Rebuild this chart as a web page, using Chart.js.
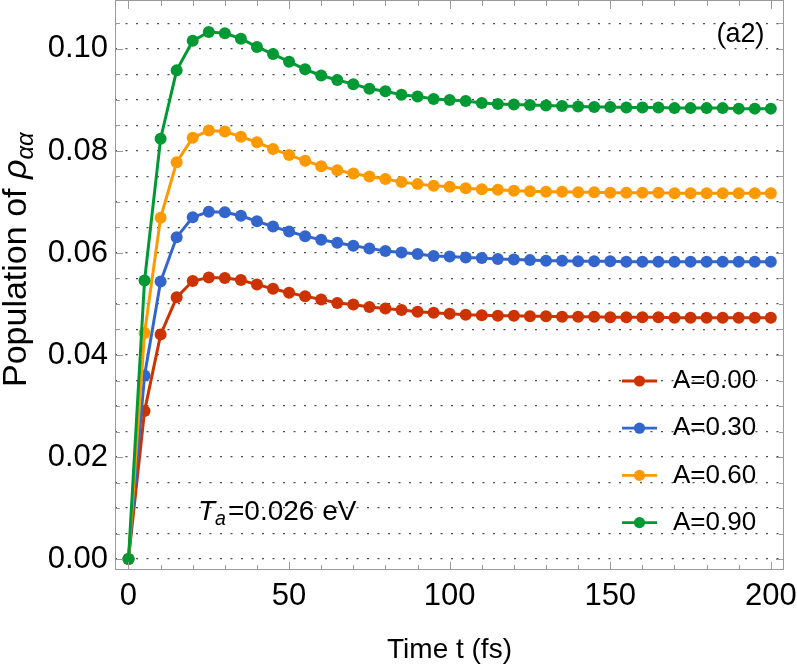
<!DOCTYPE html>
<html><head><meta charset="utf-8">
<script src="https://cdn.jsdelivr.net/npm/chart.js@4/dist/chart.umd.min.js"></script>
<style>html,body{margin:0;padding:0;background:#fff;} #wrap{width:797px;height:667px;}</style>
</head><body><div id="wrap"><canvas id="c" width="797" height="667"></canvas></div>
<script>
const timeFs = [0,5,10,15,20,25,30,35,40,45,50,55,60,65,70,75,80,85,90,95,100,105,110,115,120,125,130,135,140,145,150,155,160,165,170,175,180,185,190,195,200];
const popA000 = [0,0.0290,0.0440,0.0513,0.0545,0.0552,0.0551,0.0547,0.0538,0.0530,0.0522,0.0515,0.0509,0.0502,0.0499,0.0494,0.0491,0.0488,0.0485,0.0483,0.0481,0.0479,0.0478,0.0477,0.0477,0.0476,0.0476,0.0475,0.0475,0.0475,0.0474,0.0474,0.0474,0.0474,0.0473,0.0473,0.0473,0.0473,0.0473,0.0473,0.0473];
const popA030 = [0,0.0360,0.0544,0.0631,0.0670,0.0681,0.0680,0.0673,0.0662,0.0652,0.0642,0.0633,0.0626,0.0620,0.0614,0.0609,0.0604,0.0601,0.0598,0.0594,0.0593,0.0591,0.0590,0.0588,0.0587,0.0586,0.0585,0.0585,0.0584,0.0584,0.0584,0.0583,0.0583,0.0583,0.0583,0.0583,0.0583,0.0583,0.0583,0.0583,0.0583];
const popA060 = [0,0.0443,0.0669,0.0778,0.0826,0.0840,0.0838,0.0828,0.0817,0.0804,0.0792,0.0781,0.0770,0.0762,0.0756,0.0750,0.0745,0.0739,0.0735,0.0732,0.0730,0.0727,0.0725,0.0724,0.0722,0.0721,0.0720,0.0720,0.0719,0.0719,0.0718,0.0718,0.0718,0.0718,0.0717,0.0717,0.0717,0.0717,0.0717,0.0717,0.0717];
const popA090 = [0,0.0546,0.0824,0.0958,0.1016,0.1033,0.1031,0.1020,0.1004,0.0990,0.0975,0.0960,0.0948,0.0939,0.0931,0.0922,0.0917,0.0910,0.0907,0.0902,0.0900,0.0898,0.0894,0.0892,0.0891,0.0890,0.0889,0.0888,0.0887,0.0886,0.0886,0.0885,0.0885,0.0885,0.0884,0.0884,0.0884,0.0884,0.0883,0.0883,0.0883];
const seriesLabels = ['A=0.00','A=0.30','A=0.60','A=0.90'];
const seriesColors = ['#CC3300','#3366CC','#FF9900','#009933'];
const yGridValues = [0,0.005,0.01,0.015,0.02,0.025,0.03,0.035,0.04,0.045,0.05,0.055,0.06,0.065,0.07,0.075,0.08,0.085,0.09,0.095,0.1,0.105];
const yLabelValues = [0,0.02,0.04,0.06,0.08,0.10];
const xMinorTicks = [0,10,20,30,40,50,60,70,80,90,100,110,120,130,140,150,160,170,180,190,200];
const xLabelValues = [0,50,100,150,200];
const xTitle = 'Time t (fs)';
const panelLabel = '(a2)';

const FAM = '"Liberation Sans", Arial, Helvetica, sans-serif';
const allSeries = [popA000, popA030, popA060, popA090];

const datasets = allSeries.map((arr, i) => ({
  label: seriesLabels[i],
  data: timeFs.map((t, k) => ({x: t, y: arr[k]})),
  borderColor: seriesColors[i],
  backgroundColor: seriesColors[i],
  pointBackgroundColor: seriesColors[i],
  pointBorderWidth: 0,
  pointRadius: 6,
  borderWidth: 3,
  tension: 0,
  clip: false,
  order: 3 - i
}));

const isLabel = v => yLabelValues.some(l => Math.abs(l - v) < 1e-9);

const decor = {
  id: 'decor',
  afterDraw(chart) {
    const ctx = chart.ctx;
    const ca = chart.chartArea;
    const xs = chart.scales.x, ys = chart.scales.y;
    ctx.save();
    // frame
    ctx.strokeStyle = '#9a9a9a';
    ctx.lineWidth = 1;
    ctx.strokeRect(ca.left + 0.5, ca.top - 0.5, ca.right - ca.left - 1, ca.bottom - ca.top);
    // ticks
    ctx.beginPath();
    xMinorTicks.forEach(v => {
      const px = Math.round(xs.getPixelForValue(v)) + 0.5;
      const len = (v % 50 === 0) ? 8 : 5;
      ctx.moveTo(px, ca.bottom); ctx.lineTo(px, ca.bottom - len);
      ctx.moveTo(px, ca.top); ctx.lineTo(px, ca.top + len);
    });
    yGridValues.forEach(v => {
      const py = Math.round(ys.getPixelForValue(v)) + 0.5;
      const len = isLabel(v) ? 8 : 5;
      ctx.moveTo(ca.left, py); ctx.lineTo(ca.left + len, py);
      ctx.moveTo(ca.right, py); ctx.lineTo(ca.right - len, py);
    });
    ctx.stroke();

    // legend
    ctx.textBaseline = 'middle';
    ctx.textAlign = 'left';
    seriesLabels.forEach((lab, i) => {
      const y = 381 + i * 47.2;
      ctx.strokeStyle = seriesColors[i];
      ctx.lineWidth = 2.8;
      ctx.beginPath(); ctx.moveTo(622, y); ctx.lineTo(657, y); ctx.stroke();
      ctx.fillStyle = seriesColors[i];
      ctx.beginPath(); ctx.arc(639.5, y, 5.6, 0, Math.PI * 2); ctx.fill();
      ctx.fillStyle = '#000';
      ctx.font = '26px ' + FAM;
      ctx.fillText(lab, 673, y);
    });

    // panel label
    ctx.textBaseline = 'alphabetic';
    ctx.textAlign = 'center';
    ctx.font = '27px ' + FAM;
    ctx.fillText(panelLabel, 740.5, 42);

    // T_a annotation
    ctx.textAlign = 'left';
    let x = 198;
    const by = 520;
    ctx.font = 'italic 28px ' + FAM;
    ctx.fillText('T', x, by); x += ctx.measureText('T').width;
    ctx.font = 'italic 19.6px ' + FAM;
    ctx.fillText('a', x, by + 5); x += ctx.measureText('a').width + 2;
    ctx.font = '28px ' + FAM;
    ctx.fillText('=0.026 eV', x, by);

    // y title (rotated)
    ctx.translate(26, 387);
    ctx.rotate(-Math.PI / 2);
    let lx = 0;
    ctx.font = '34px ' + FAM;
    ctx.fillText('Population of ', lx, 0); lx += ctx.measureText('Population of ').width;
    ctx.font = 'italic 34px ' + FAM;
    ctx.fillText('\u03C1', lx, 0); lx += ctx.measureText('\u03C1').width;
    ctx.font = 'italic 24px ' + FAM;
    ctx.fillText('\u03B1\u03B1', lx, 7);
    ctx.restore();
  }
};

new Chart(document.getElementById('c'), {
  type: 'line',
  data: {datasets},
  plugins: [decor],
  options: {
    responsive: false,
    animation: false,
    devicePixelRatio: 1,
    layout: {autoPadding: false, padding: {left: 0, right: 13, top: 1, bottom: 0}},
    plugins: {legend: {display: false}, tooltip: {enabled: false}},
    scales: {
      x: {
        type: 'linear', min: -4.2, max: 204.1,
        afterFit(s) { s.height = 97; s.paddingLeft = 0; s.paddingRight = 0; },
        afterBuildTicks(s) { s.ticks = xLabelValues.map(v => ({value: v})); },
        grid: {display: false, drawTicks: false},
        border: {display: false},
        ticks: {font: {family: FAM, size: 31}, color: '#000', padding: 8, maxRotation: 0, autoSkip: false, callback: v => String(v)},
        title: {display: true, text: xTitle, font: {family: FAM, size: 28}, color: '#000', padding: 0}
      },
      y: {
        type: 'linear', min: -0.00215, max: 0.1094,
        afterFit(s) { s.width = 115; s.paddingTop = 0; s.paddingBottom = 0; },
        afterBuildTicks(s) { s.ticks = yGridValues.map(v => ({value: v})); },
        grid: {color: 'rgba(0,0,0,0.7)', lineWidth: 1.3, drawTicks: false},
        border: {display: false, dash: [2, 8.5]},
        ticks: {font: {family: FAM, size: 31}, color: '#000', padding: 7, autoSkip: false,
          callback: v => isLabel(v) ? v.toFixed(2) : ''}
      }
    }
  }
});
</script>
</body></html>
